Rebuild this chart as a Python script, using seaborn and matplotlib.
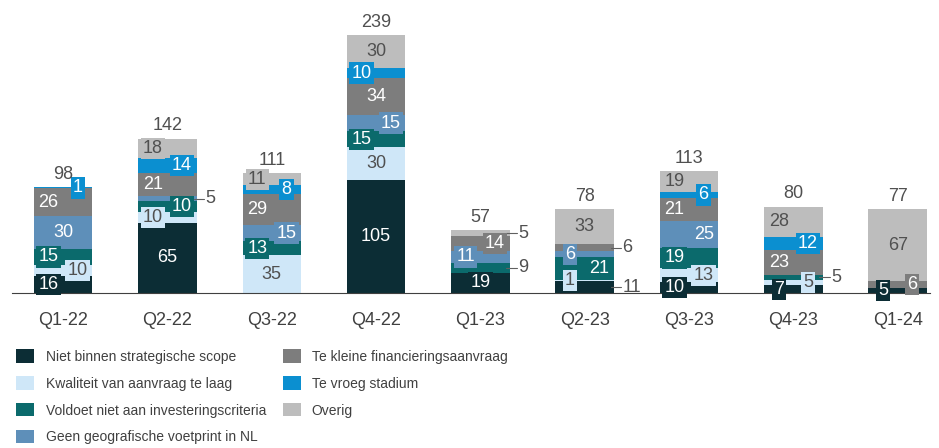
import numpy as np
import pandas as pd
import seaborn as sns
import matplotlib.pyplot as plt
from matplotlib.patches import Patch

quarters = ["Q1-22", "Q2-22", "Q3-22", "Q4-22", "Q1-23", "Q2-23", "Q3-23", "Q4-23", "Q1-24"]

niet_scope = [16, 65, 0, 105, 19, 11, 10, 7, 5]
kwaliteit = [10, 10, 35, 30, 0, 1, 13, 5, 0]
criteria = [15, 10, 13, 15, 9, 21, 19, 5, 0]
geo = [30, 5, 15, 15, 11, 6, 25, 0, 0]
te_klein = [26, 21, 29, 34, 14, 6, 21, 23, 6]
te_vroeg = [1, 14, 8, 10, 0, 0, 6, 12, 0]
overig = [0, 18, 11, 30, 5, 33, 19, 28, 67]
totals = [98, 142, 111, 239, 57, 78, 113, 80, 77]

labels = [
    "Niet binnen strategische scope",
    "Kwaliteit van aanvraag te laag",
    "Voldoet niet aan investeringscriteria",
    "Geen geografische voetprint in NL",
    "Te kleine financieringsaanvraag",
    "Te vroeg stadium",
    "Overig",
]
colors = ["#0c2d35", "#cfe7f8", "#0b6a6c", "#5e8fb9", "#7d7d7d", "#0b8fd0", "#bdbdbd"]
text_colors = ["white", "#505050", "white", "white", "white", "white", "#505050"]

# segments whose label sits to the right of the bar
outside = {(1, 3), (4, 2), (4, 6), (5, 0), (5, 4), (7, 2)}

series = [niet_scope, kwaliteit, criteria, geo, te_klein, te_vroeg, overig]

df = pd.DataFrame(np.array(series).T, columns=labels)
df["Kwartaal"] = quarters
cum = df[labels].cumsum(axis=1)

sns.set_style("white")
plt.rcParams["font.family"] = ["Liberation Sans", "DejaVu Sans"]

fig = plt.figure(figsize=(9.39, 4.48), dpi=100)
ax = fig.add_axes([12 / 939, 155 / 448, 918 / 939, 275 / 448])

width = 0.56
# draw cumulative bars from top to bottom so each lower layer covers the upper
for i in range(len(labels) - 1, -1, -1):
    sns.barplot(x=df["Kwartaal"], y=cum[labels[i]], color=colors[i],
                width=width, ax=ax, saturation=1, linewidth=0)

for j in range(len(quarters)):
    bottom = 0
    side = -1
    for i, vals in enumerate(series):
        v = vals[j]
        if v == 0:
            continue
        mid = bottom + v / 2
        if (j, i) in outside:
            x0 = j + width / 2
            ax.plot([x0 - 0.03, x0 + 0.07], [mid, mid], color="#606060", lw=0.8)
            ax.text(x0 + 0.08, mid, str(v), ha="left", va="center",
                    fontsize=13, color="#505050")
        else:
            if v >= 30 or (j == 4 and i == 0):
                xpos = j
                side = -1
            else:
                xpos = j + side * width * 0.25
                side = -side
            ax.text(xpos, mid, str(v), ha="center", va="center", fontsize=13,
                    color=text_colors[i],
                    bbox=dict(boxstyle="square,pad=0.12", fc=colors[i], ec="none"))
        bottom += v
    ax.text(j, max(totals[j], bottom) + 4, str(totals[j]), ha="center",
            va="bottom", fontsize=13, color="#505050")

ax.set_xlim(-0.49, 8.31)
ax.set_ylim(0, 255)
ax.set_xlabel("")
ax.set_ylabel("")
ax.set_yticks([])
sns.despine(ax=ax, left=True)
ax.spines["bottom"].set_color("#404040")
ax.tick_params(axis="x", length=0, pad=14, labelsize=13, labelcolor="#404040")

handles = [Patch(facecolor=c, edgecolor="none") for c in colors]
fig.legend(handles, labels, loc="upper left", bbox_to_anchor=(8 / 939, 1 - 341 / 448),
           ncol=2, frameon=False, fontsize=10, labelcolor="#404040",
           handlelength=1.3, handleheight=1.1, handletextpad=0.8,
           labelspacing=0.9, columnspacing=1.2, borderaxespad=0.2)

fig.savefig("out.png", dpi=100)
